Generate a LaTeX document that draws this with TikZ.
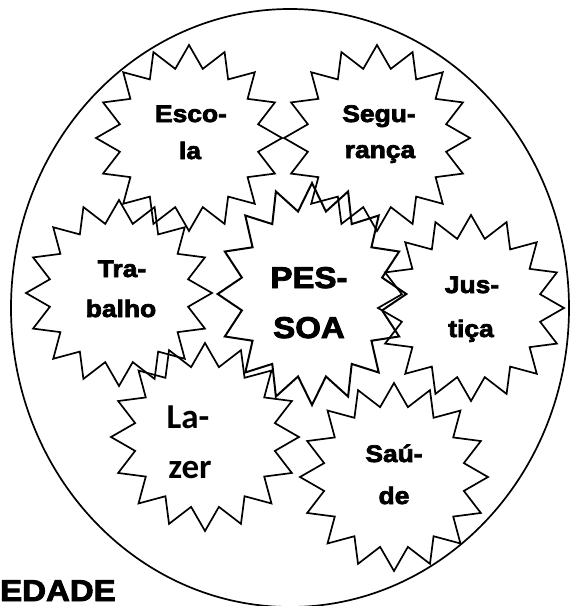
\documentclass[tikz,border=0pt]{standalone}
\usepackage{fontspec}
\usetikzlibrary{shapes.geometric}
\newfontfamily\labfont{Liberation Sans}[UprightFont=* Bold, FakeStretch=1.1, FakeBold=3]
\newfontfamily\lazfont{Carlito}[UprightFont=* Bold]
\tikzset{
  burst/.style={draw, line width=1.7pt, star, star points=16, star point ratio=1.32, inner sep=0pt, minimum size=#1},
  burst/.default=186pt,
  lbl/.style={anchor=base, inner sep=0pt, font=\labfont\fontsize{24}{24}\selectfont},
  biglbl/.style={anchor=base, inner sep=0pt, font=\labfont\fontsize{30}{30}\selectfont},
  lazlbl/.style={anchor=base, inner sep=0pt, font=\lazfont\fontsize{35}{35}\selectfont},
  soc/.style={anchor=base west, inner sep=0pt, font=\labfont\fontsize{30}{30}\selectfont},
  ring/.style={draw, line width=1.7pt}
}
\begin{document}
\begin{tikzpicture}[x=1pt,y=-1pt]
\useasboundingbox (0,0) rectangle (574,606);
\draw[ring] (290,308) ellipse [x radius=279, y radius=299];
% bursts
\node[burst] (escola) at (189,138) {};
\node[burst] (seguranca) at (377,138) {};
\node[burst] (trabalho) at (119,293) {};
\begin{scope}[shift={(312,294)}, xscale=0.85]
\node[burst=222pt, transform shape, line width=2pt] (pessoa) at (0,0) {};
\end{scope}
\node[burst] (justica) at (471,308) {};
\node[burst=188pt] (lazer) at (205,437) {};
\node[burst=188pt] (saude) at (394,477) {};
% labels
\node[lbl] (escolaA) at (191,122) {Esco-};
\node[lbl] (escolaB) at (190,159) {la};
\node[lbl] (segA) at (379,122) {Segu-};
\node[lbl] (segB) at (380,158) {rança};
\node[lbl] (trabA) at (122,277) {Tra-};
\node[lbl] (trabB) at (121,317) {balho};
\node[lbl] (jusA) at (472,293) {Jus-};
\node[lbl] (jusB) at (471,337) {tiça};
\node[lbl] (saudeA) at (394,462) {Saú-};
\node[lbl] (saudeB) at (394,504) {de};
\node[biglbl] (pesA) at (309,288) {PES-};
\node[biglbl] (pesB) at (309,338) {SOA};
\node[lazlbl] (lazA) at (188,428) {La-};
\node[lazlbl] (lazB) at (190,478) {zer};
\node[soc] (soc) at (0,601) {EDADE};
\end{tikzpicture}
\end{document}
